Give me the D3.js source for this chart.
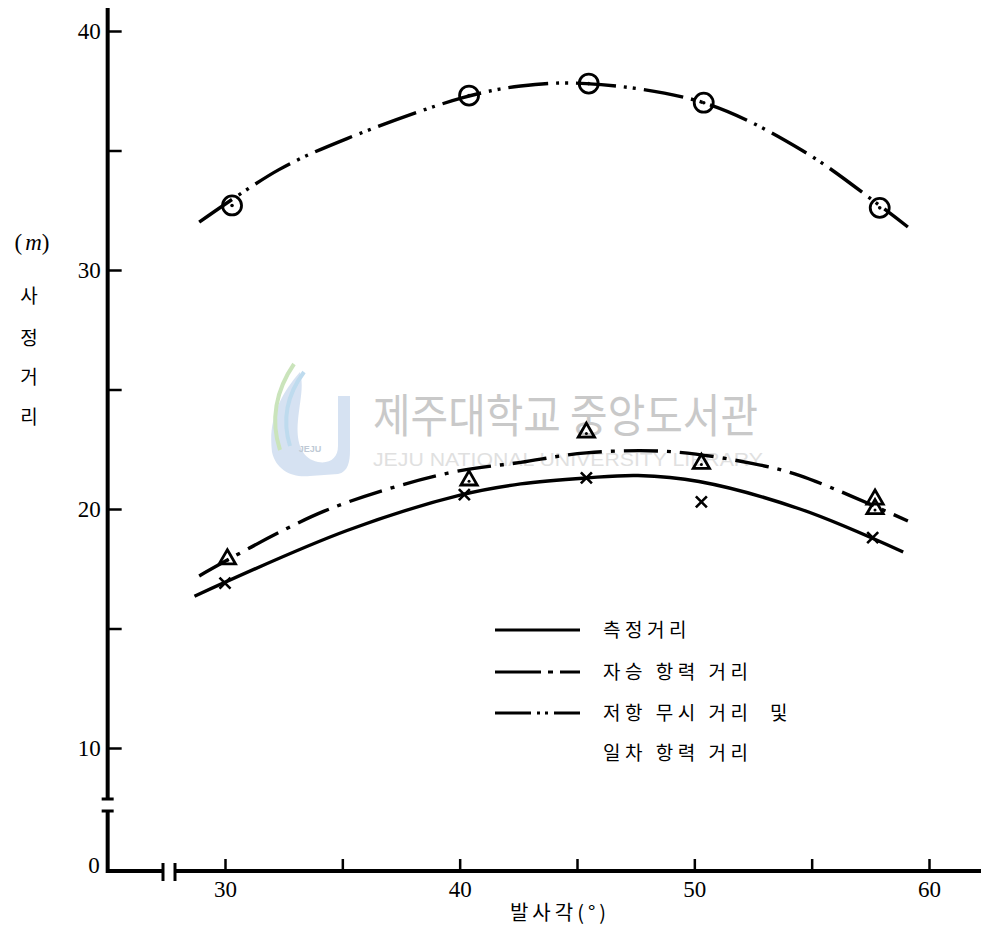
<!DOCTYPE html>
<html><head><meta charset="utf-8">
<script src="https://cdn.jsdelivr.net/npm/d3@7"></script>
<style>body{margin:0;background:#fff}svg{display:block}</style>
</head><body><svg id="c" width="981" height="931"></svg>
<script>
// ---------- data ----------
const xTicks = [30, 35, 40, 45, 50, 55, 60];
const xTickLabels = ["30", "", "40", "", "50", "", "60"];
const yTicks = [15, 20, 25, 30, 35, 40, 10];
const yTickLabels = ["", "20", "", "30", "", "40", "10"];
const yZeroLabel = "0";

// 저항 무시 거리 및 일차 항력 거리 (circles)
const circleX = [30.3, 40.4, 45.5, 50.4, 57.9];
const circleY = [32.7, 37.3, 37.8, 37.0, 32.6];
// 자승 항력 거리 (triangles)
const triX = [30.1, 40.4, 45.4, 50.3, 57.7, 57.7];
const triY = [17.9, 21.2, 23.2, 21.9, 20.4, 20.0];
// 측정거리 (crosses)
const crossX = [30.0, 40.2, 45.4, 50.3, 57.6];
const crossY = [16.9, 20.6, 21.3, 20.3, 18.8];

// fitted curves
const topCurveX = [28.9, 32.3, 35.2, 40.1, 42.6, 45.4, 50.4, 54.6, 57.9, 59.1];
const topCurveY = [32.0, 34.2, 35.5, 37.2, 37.7, 37.8, 37.0, 35.0, 32.7, 31.8];
const midCurveX = [28.9, 34.2, 39.5, 42.6, 45.4, 49.0, 52.5, 54.5, 59.1];
const midCurveY = [17.2, 19.9, 21.5, 21.95, 22.35, 22.4, 21.9, 21.4, 19.5];
const solidCurveX = [28.7, 35.2, 40.1, 42.6, 45.4, 47.6, 50.2, 54.5, 58.9];
const solidCurveY = [16.35, 19.1, 20.6, 21.05, 21.3, 21.4, 21.15, 20.0, 18.2];

const legendLabels = ["측정거리", "자승 항력 거리", "저항 무시 거리  및", "일차 항력 거리"];
const xTitle = "발사각(°)";
const yTitleChars = ["사", "정", "거", "리"];

// ---------- setup ----------
const svg = d3.select("#c");
const x = d3.scaleLinear().domain([30, 60]).range([225, 929]);
const y = d3.scaleLinear().domain([0, 10, 40]).range([871, 748, 31]);
const axisX = x(25);      // y-axis position
const axisY = y(0);       // x-axis position
const serif = "'Liberation Serif','DejaVu Serif',serif";
const kr = "'Noto Sans CJK KR','Noto Sans CJK SC',sans-serif";
const numSize = 23;

// ---------- watermark ----------
const wm = svg.append("g").attr("opacity", 0.75);
wm.append("path").attr("d", "M300,372 C280,395 268,420 272,452 C276,470 292,478 310,476 L338,474 C348,472 350,462 350,450 L350,396 L338,396 L338,446 C338,458 330,464 318,462 C300,458 296,440 298,420 C300,400 304,386 300,372 Z")
  .attr("fill", "#c9d9ee");
wm.append("path").attr("d", "M294,364 C276,390 270,420 280,450").attr("fill", "none").attr("stroke", "#b9dba5").attr("stroke-width", 4);
wm.append("path").attr("d", "M304,372 C286,396 282,420 290,446").attr("fill", "none").attr("stroke", "#a9cfe9").attr("stroke-width", 4);
wm.append("text").attr("x", 310).attr("y", 452).attr("text-anchor", "middle")
  .attr("font-family", "Liberation Sans, sans-serif").attr("font-size", 9).attr("font-weight", "bold").attr("fill", "#aab8c8").text("JEJU");
wm.append("text").attr("x", 373).attr("y", 432).attr("textLength", 385).attr("lengthAdjust", "spacingAndGlyphs")
  .attr("font-family", kr).attr("font-size", 46).attr("fill", "#b8b8b8").text("제주대학교 중앙도서관");
wm.append("text").attr("x", 373).attr("y", 466).attr("textLength", 390).attr("lengthAdjust", "spacingAndGlyphs")
  .attr("font-family", "'Liberation Sans',sans-serif").attr("font-size", 19).attr("fill", "#d6d6d6").text("JEJU NATIONAL UNIVERSITY LIBRARY");

// ---------- axes ----------
const yAxis = d3.axisLeft(y).tickValues(yTicks).tickSize(-14).tickPadding(7)
  .tickFormat((d, i) => yTickLabels[i]);
const gy = svg.append("g").attr("transform", `translate(${axisX},0)`).call(yAxis);
gy.select(".domain").remove();
gy.selectAll(".tick line").attr("stroke", "#000").attr("stroke-width", 2.5);
gy.selectAll(".tick text").attr("font-family", serif).attr("font-size", numSize).attr("fill", "#000");
svg.append("text").attr("x", axisX - 8).attr("y", y(0) - 5).attr("dy", "0.32em").attr("text-anchor", "end")
  .attr("font-family", serif).attr("font-size", numSize).text(yZeroLabel);

const xAxis = d3.axisBottom(x).tickValues(xTicks).tickSize(-12).tickPadding(10)
  .tickFormat((d, i) => xTickLabels[i]);
const gx = svg.append("g").attr("transform", `translate(0,${axisY})`).call(xAxis);
gx.select(".domain").remove();
gx.selectAll(".tick line").attr("stroke", "#000").attr("stroke-width", 2.5);
gx.selectAll(".tick text").attr("font-family", serif).attr("font-size", numSize).attr("fill", "#000");

// axis lines with breaks
const axStyle = s => s.attr("stroke", "#000").attr("stroke-width", 4).attr("fill", "none");
const yBreakTop = 799, yBreakBot = 811, xBreakL = 163, xBreakR = 175;
svg.append("path").attr("d", `M${axisX},8 V${yBreakTop}`).call(axStyle);
svg.append("path").attr("d", `M${axisX},${yBreakBot} V${axisY} H${xBreakL}`).call(axStyle).attr("stroke-linejoin", "miter");
svg.append("path").attr("d", `M${xBreakR},${axisY} H981`).call(axStyle);
// break bars
const bar = s => s.attr("stroke", "#000").attr("stroke-width", 3);
svg.append("line").attr("x1", axisX - 6).attr("x2", axisX + 6).attr("y1", yBreakTop).attr("y2", yBreakTop).call(bar);
svg.append("line").attr("x1", axisX - 6).attr("x2", axisX + 6).attr("y1", yBreakBot).attr("y2", yBreakBot).call(bar);
svg.append("line").attr("x1", xBreakL).attr("x2", xBreakL).attr("y1", axisY - 8).attr("y2", axisY + 10).call(bar);
svg.append("line").attr("x1", xBreakR).attr("x2", xBreakR).attr("y1", axisY - 8).attr("y2", axisY + 10).call(bar);

// axis titles
svg.append("text").attr("x", 560).attr("y", 913).attr("dy", "0.35em").attr("text-anchor", "middle")
  .attr("font-family", kr).attr("font-size", 20).attr("letter-spacing", 4).text(xTitle);
const yt = svg.append("text").attr("x", 32).attr("y", 242).attr("dy", "0.35em").attr("text-anchor", "middle")
  .attr("font-family", serif).attr("font-size", 23);
yt.append("tspan").text("(");
yt.append("tspan").attr("font-style", "italic").attr("dx", 3).text("m");
yt.append("tspan").text(")");
const yTitleY = [296, 338, 377, 417];
yTitleChars.forEach((c, i) => {
  svg.append("text").attr("x", 29).attr("y", yTitleY[i]).attr("dy", "0.35em").attr("text-anchor", "middle")
    .attr("font-family", kr).attr("font-size", 19).text(c);
});

// ---------- curves ----------
const line = d3.line().x(d => x(d[0])).y(d => y(d[1])).curve(d3.curveCatmullRom.alpha(0.5));
const dashDotDot = "40,8,3,6,3,8";
const dashDot = "34,9,4,9";
svg.append("path").datum(d3.zip(topCurveX, topCurveY)).attr("d", line)
  .attr("fill", "none").attr("stroke", "#000").attr("stroke-width", 3.4).attr("stroke-dasharray", dashDotDot);
svg.append("path").datum(d3.zip(midCurveX, midCurveY)).attr("d", line)
  .attr("fill", "none").attr("stroke", "#000").attr("stroke-width", 3.4).attr("stroke-dasharray", dashDot);
svg.append("path").datum(d3.zip(solidCurveX, solidCurveY)).attr("d", line)
  .attr("fill", "none").attr("stroke", "#000").attr("stroke-width", 3.4);

// ---------- markers ----------
svg.append("g").selectAll("circle").data(d3.zip(circleX, circleY)).join("circle")
  .attr("cx", d => x(d[0])).attr("cy", d => y(d[1])).attr("r", 9.5)
  .attr("fill", "none").attr("stroke", "#000").attr("stroke-width", 2.8);
svg.append("g").selectAll("circle").data(d3.zip(circleX, circleY)).join("circle")
  .attr("cx", d => x(d[0])).attr("cy", d => y(d[1])).attr("r", 1.8).attr("fill", "#000");

const tri = d3.symbol(d3.symbolTriangle, 115);
const tg = svg.append("g").selectAll("g").data(d3.zip(triX, triY)).join("g")
  .attr("transform", d => `translate(${x(d[0])},${y(d[1])})`);
tg.append("path").attr("d", tri).attr("fill", "none").attr("stroke", "#000").attr("stroke-width", 2.8);
tg.append("circle").attr("r", 1.5).attr("cy", 1).attr("fill", "#000");

svg.append("g").selectAll("path").data(d3.zip(crossX, crossY)).join("path")
  .attr("d", d => { const cx = x(d[0]), cy = y(d[1]), r = 5.5;
    return `M${cx - r},${cy - r}L${cx + r},${cy + r}M${cx - r},${cy + r}L${cx + r},${cy - r}`; })
  .attr("stroke", "#000").attr("stroke-width", 2.6);

// ---------- legend ----------
const legDash = [null, "46,7,5,7", "36,6,3,5,3,6"];
const legY = [630, 672, 713];
legY.forEach((ly, i) => {
  svg.append("line").attr("x1", 495).attr("x2", 580).attr("y1", ly).attr("y2", ly)
    .attr("stroke", "#000").attr("stroke-width", 3).attr("stroke-dasharray", legDash[i]);
});
const legTextY = [630, 672, 713, 753];
legendLabels.forEach((t, i) => {
  svg.append("text").attr("x", 603).attr("y", legTextY[i]).attr("dy", "0.35em")
    .attr("font-family", kr).attr("font-size", 19).attr("letter-spacing", 4.5)
    .style("white-space", "pre").text(t);
});
</script>
</body></html>
